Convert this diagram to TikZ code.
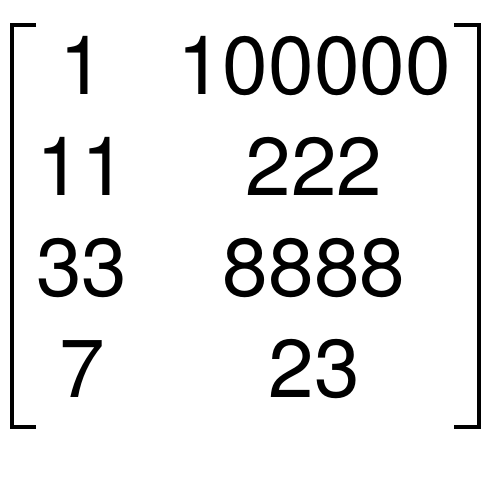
\documentclass[tikz,border=0pt]{standalone}
\usepackage{fontspec}
\setmainfont{TeX Gyre Heros}
\usetikzlibrary{calc}

\begin{document}
\begin{tikzpicture}[x=.02cm, y=-.02cm]
\tikzset{entry/.style={font=\fontsize{46.7}{50}\selectfont, anchor=base, inner sep=0}}
\useasboundingbox (0,0) rectangle (500,500);
% brackets
\draw[black, line width=2.8pt] (36,25)--(12,25)--(12,427)--(36,427);
\draw[black, line width=2.8pt] (454,25)--(479,25)--(479,427)--(454,427);
\foreach \a/\b [count=\i] in {1/100000,11/222,33/8888,7/23} {
 \node[entry] (a\i) at (82,{94+101.3*(\i-1)}) {\a};
 \node[entry] (b\i) at (314,{94+101.3*(\i-1)}) {\b};
}
\end{tikzpicture}
\end{document}
